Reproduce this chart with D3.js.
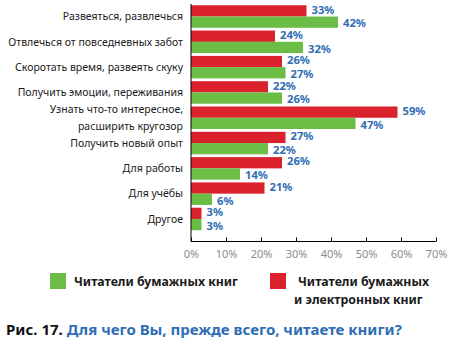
<!DOCTYPE html>
<html><head><meta charset="utf-8">
<script src="https://cdn.jsdelivr.net/npm/d3@7"></script>
<style>body{margin:0;background:#fff}svg{display:block}text{font-family:"Noto Sans",sans-serif}</style>
</head><body>
<svg id="c" width="460" height="340"></svg>
<script>
const categories = [
  ["Развеяться, развлечься"],
  ["Отвлечься от повседневных забот"],
  ["Скоротать время, развеять скуку"],
  ["Получить эмоции, переживания"],
  ["Узнать что-то интересное,", "расширить кругозор"],
  ["Получить новый опыт"],
  ["Для работы"],
  ["Для учёбы"],
  ["Другое"]
];
const paperReaders = [42, 32, 27, 26, 47, 22, 14, 6, 3];
const bothReaders  = [33, 24, 26, 22, 59, 27, 26, 21, 3];
const xTicks = [0, 10, 20, 30, 40, 50, 60, 70];
const legendLabels = [["Читатели бумажных книг"], ["Читатели бумажных", "и электронных книг"]];
const captionNum = "Рис. 17. ";
const captionText = "Для чего Вы, прежде всего, читаете книги?";

const RED = "#da222c", GREEN = "#6cbd45", BLUE = "#2f6db5";
const svg = d3.select("#c");
const keys = categories.map((d, i) => i);
const x = d3.scaleLinear().domain([0, 70]).range([191, 436]);
const y = d3.scaleBand().domain(keys).range([4, 231.5]).paddingInner(0.11).paddingOuter(0.05);
const sub = d3.scaleBand().domain(["both", "paper"]).range([0, y.bandwidth()]);
const axisY = 241.5;

const g = svg.append("g");
keys.forEach(i => {
  const series = [["both", bothReaders[i], RED, -1.3], ["paper", paperReaders[i], GREEN, 1.3]];
  series.forEach(([k, v, col, off]) => {
    const yy = y(i) + sub(k);
    g.append("rect").attr("x", x(0)).attr("y", yy).attr("width", x(v) - x(0))
      .attr("height", sub.bandwidth()).attr("fill", col);
    g.append("text").attr("x", x(v) + 5).attr("y", yy + sub.bandwidth() / 2 + off)
      .attr("dy", "0.36em").attr("fill", BLUE).attr("font-weight", "bold")
      .attr("font-size", 11.2).text(v + "%");
  });
  const lines = categories[i];
  const cy = y(i) + y.bandwidth() / 2;
  lines.forEach((ln, j) => {
    g.append("text").attr("x", 183).attr("y", cy + (j - (lines.length - 1) / 2) * 17)
      .attr("dy", "0.35em").attr("text-anchor", "end").attr("fill", "#1a1a1a")
      .attr("font-size", 10.5).text(ln);
  });
});

// vertical axis line
svg.append("line").attr("x1", x(0)).attr("x2", x(0)).attr("y1", 4).attr("y2", axisY)
  .attr("stroke", "#000").attr("stroke-width", 1);

// x axis
const xa = svg.append("g").attr("transform", `translate(0,${axisY})`)
  .call(d3.axisBottom(x).tickValues(xTicks).tickSize(-4).tickPadding(9).tickFormat(d => d + "%"));
xa.select(".domain").attr("d", `M${x(0)},0H${x(70)}`).attr("stroke", "#000");
xa.selectAll(".tick line").attr("stroke", "#000");
xa.selectAll(".tick text").attr("fill", "#8c8c8c").attr("font-size", 11)
  .attr("font-family", "'Noto Sans',sans-serif");

// legend
const leg = [[50, GREEN, legendLabels[0]], [270, RED, legendLabels[1]]];
leg.forEach(([lx, col, lines]) => {
  svg.append("rect").attr("x", lx).attr("y", 273).attr("width", 16).attr("height", 16).attr("fill", col);
  lines.forEach((ln, j) => {
    svg.append("text").attr("x", lx + 24 + (j === 0 && lx > 100 ? 4 : 0)).attr("y", 281.5 + j * 18.5).attr("dy", "0.35em")
      .attr("font-weight", "bold").attr("font-size", 12.3).attr("fill", "#1a1a1a").text(ln);
  });
});

// caption
const cap = svg.append("text").attr("x", 6).attr("y", 330).attr("dy", "0.35em")
  .attr("font-weight", "bold").attr("font-size", 15);
cap.append("tspan").attr("fill", "#111").text(captionNum);
cap.append("tspan").attr("fill", BLUE).text(captionText);
</script>
</body></html>
